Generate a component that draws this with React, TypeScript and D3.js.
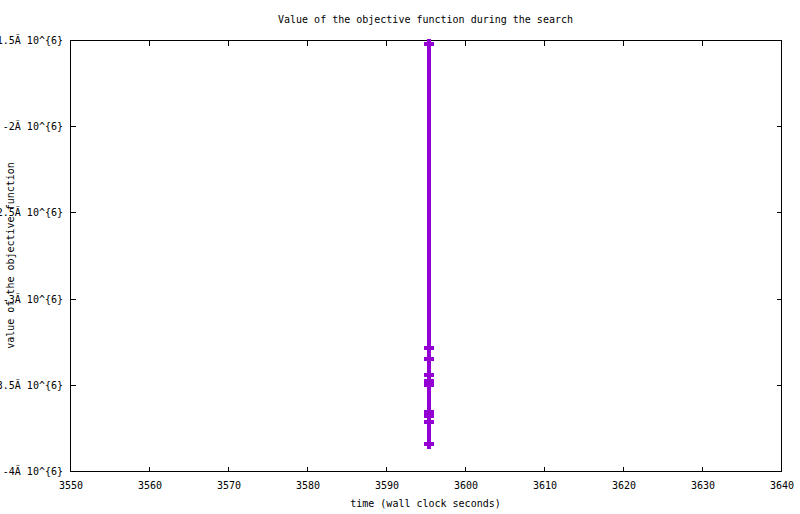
import { useEffect, useRef } from "react"
import * as d3 from "d3"

// search trace: wall clock time (s) and objective value
const times = [3595.4, 3595.4, 3595.4, 3595.4, 3595.4, 3595.4, 3595.4, 3595.4, 3595.4, 3595.4]
const values = [-1.522e6, -3.285e6, -3.349e6, -3.441e6, -3.476e6, -3.503e6, -3.658e6, -3.681e6, -3.716e6, -3.842e6]

const xTicks = [3550, 3560, 3570, 3580, 3590, 3600, 3610, 3620, 3630, 3640]
const yTicks = [-4e6, -3.5e6, -3e6, -2.5e6, -2e6, -1.5e6]
const yTickLabels = ["-4Ã 10^{6}", "-3.5Ã 10^{6}", "-3Ã 10^{6}", "-2.5Ã 10^{6}", "-2Ã 10^{6}", "-1.5Ã 10^{6}"]

const title = "Value of the objective function during the search"
const xLabel = "time (wall clock seconds)"
const yLabel = "value of the objective function"

export default function App() {
  const svgRef = useRef<SVGSVGElement>(null)

  useEffect(() => {
    const svgEl = svgRef.current
    if (!svgEl) return
    const svg = d3.select(svgEl)
    svg.selectAll("*").remove()

    const W = 800
    const H = 514
    const margin = { top: 40, right: 19, bottom: 43, left: 70 }
    const font = "'DejaVu Sans Mono', monospace"
    const color = "#9400d3"

    const x = d3.scaleLinear().domain([3550, 3640]).range([margin.left, W - margin.right])
    const y = d3.scaleLinear().domain([-4e6, -1.5e6]).range([H - margin.bottom, margin.top])

    svg.append("rect").attr("width", W).attr("height", H).attr("fill", "#fff")

    const axes = svg.append("g").attr("shape-rendering", "crispEdges").attr("stroke", "#000")
    const x0 = margin.left + 0.5
    const x1 = W - margin.right + 0.5
    const y0 = margin.top + 0.5
    const y1 = H - margin.bottom + 0.5
    const tl = 5

    xTicks.forEach(t => {
      const px = Math.round(x(t)) + 0.5
      axes.append("line").attr("x1", px).attr("x2", px).attr("y1", y1).attr("y2", y1 - tl)
      axes.append("line").attr("x1", px).attr("x2", px).attr("y1", y0).attr("y2", y0 + tl)
    })
    yTicks.forEach(t => {
      const py = Math.round(y(t)) + 0.5
      axes.append("line").attr("x1", x0).attr("x2", x0 + tl).attr("y1", py).attr("y2", py)
      axes.append("line").attr("x1", x1).attr("x2", x1 - tl).attr("y1", py).attr("y2", py)
    })
    axes.append("rect")
      .attr("x", x0).attr("y", y0)
      .attr("width", x1 - x0).attr("height", y1 - y0)
      .attr("fill", "none")

    const text = svg.append("g").attr("font-family", font).attr("font-size", 10).attr("fill", "#000")

    text.selectAll("text.xt").data(xTicks).join("text")
      .attr("class", "xt")
      .attr("x", d => x(d) + 1)
      .attr("y", 489)
      .attr("text-anchor", "middle")
      .text(d => String(d))

    text.selectAll("text.yt").data(yTicks).join("text")
      .attr("class", "yt")
      .attr("x", 63)
      .attr("y", d => y(d) + 4)
      .attr("text-anchor", "end")
      .text((_, i) => yTickLabels[i])

    text.append("text")
      .attr("x", (margin.left + W - margin.right) / 2)
      .attr("y", 23)
      .attr("text-anchor", "middle")
      .text(title)

    text.append("text")
      .attr("x", (margin.left + W - margin.right) / 2)
      .attr("y", 507)
      .attr("text-anchor", "middle")
      .text(xLabel)

    text.append("text")
      .attr("transform", `translate(14,${(margin.top + H - margin.bottom) / 2}) rotate(-90)`)
      .attr("text-anchor", "middle")
      .text(yLabel)

    const data = times.map((t, i) => ({ t, v: values[i] }))
    const line = d3.line<{ t: number; v: number }>()
      .x(d => x(d.t))
      .y(d => y(d.v))

    const plot = svg.append("g").attr("shape-rendering", "crispEdges")
    plot.append("path")
      .datum(data)
      .attr("d", line)
      .attr("fill", "none")
      .attr("stroke", color)
      .attr("stroke-width", 4)

    const ps = 5
    plot.selectAll("path.pt").data(data).join("path")
      .attr("class", "pt")
      .attr("d", d => {
        const cx = x(d.t)
        const cy = y(d.v)
        return `M${cx - ps},${cy}H${cx + ps}M${cx},${cy - ps}V${cy + ps}`
      })
      .attr("stroke", color)
      .attr("stroke-width", 4)
      .attr("fill", "none")
  }, [])

  return (
    <div style={{ position: "absolute", left: 0, top: 0 }}>
      <svg ref={svgRef} width={800} height={514} style={{ display: "block" }} role="img" aria-label="Objective value over time" />
    </div>
  )
}
